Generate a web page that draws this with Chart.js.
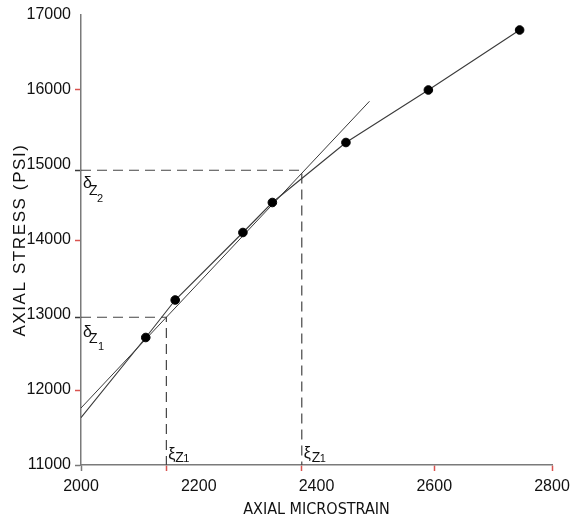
<!DOCTYPE html>
<html>
<head>
<meta charset="utf-8">
<script src="https://cdn.jsdelivr.net/npm/chart.js@4/dist/chart.umd.min.js"></script>
<style>
  html, body { margin: 0; padding: 0; background: #fff; }
  #wrap { width: 582px; height: 527px; }
</style>
</head>
<body>
<div id="wrap"><canvas id="c" width="582" height="527"></canvas></div>
<script>
// ---- data ----
const strainValues = [2110, 2160, 2275, 2325, 2450, 2590, 2745];
const stressValues = [12700, 13200, 14100, 14500, 15300, 16000, 16800];

// curve drawn through the data, starting at the left axis
const curveStartStrain = 2000;
const curveStartStress = 11630;

// straight chord line
const chordStrain = [2000, 2490];
const chordStress = [11760, 15850];

// construction (dashed) values
const xiZ1 = 2145, deltaZ1 = 12970;
const xiZ2 = 2375, deltaZ2 = 14930;

// axis ticks
const xTickLabels = [2000, 2200, 2400, 2600, 2800];
const yTickLabels = [11000, 12000, 13000, 14000, 15000, 16000, 17000];

const RED = '#d9534f';
const AXIS = '#7a7a7a';
const LINE = '#3a3a3a';
const TICKFONT = "'Liberation Sans', Arial, sans-serif";
const XTITLEFONT = "'DejaVu Sans Condensed', 'Liberation Sans', sans-serif";

const points = strainValues.map((x, i) => ({x, y: stressValues[i]}));
const curve = [{x: curveStartStrain, y: curveStartStress}].concat(points);
const chord = chordStrain.map((x, i) => ({x, y: chordStress[i]}));
const dash1 = [{x: 2000, y: deltaZ1}, {x: xiZ1, y: deltaZ1}, {x: xiZ1, y: 11000}];
const dash2 = [{x: 2000, y: deltaZ2}, {x: xiZ2, y: deltaZ2}, {x: xiZ2, y: 11000}];

const xTicksAll = [2000, xiZ1, 2200, xiZ2, 2400, 2600, 2800];
const yTicksAll = [11000, 12000, deltaZ1, 13000, 14000, deltaZ2, 15000, 16000, 17000];

function xTickColor(v) {
  if (v === 2000) return AXIS;
  if (v === 2200 || v === 2400) return 'rgba(0,0,0,0)';
  return RED;
}
function yTickColor(v) {
  if (v === 11000) return AXIS;
  if (v === deltaZ1 || v === deltaZ2) return LINE;
  if (v === 13000 || v === 15000 || v === 17000) return 'rgba(0,0,0,0)';
  return RED;
}

const labelPlugin = {
  id: 'greekLabels',
  afterDatasetsDraw(chart) {
    const {ctx, scales: {x, y}} = chart;
    ctx.save();
    ctx.fillStyle = '#111';
    ctx.textBaseline = 'alphabetic';
    ctx.textAlign = 'left';
    function lab(sym, sub, px, py, o) {
      ctx.font = "16px 'Liberation Sans', Arial, sans-serif";
      ctx.fillText(sym, px + o[0], py + o[1]);
      ctx.font = "14px 'Liberation Sans', Arial, sans-serif";
      ctx.fillText('Z', px + o[2], py + o[3]);
      ctx.font = "11px 'Liberation Sans', Arial, sans-serif";
      ctx.fillText(sub, px + o[4], py + o[5]);
    }
    const ax = x.getPixelForValue(2000);
    lab('δ', '2', ax, y.getPixelForValue(deltaZ2), [2, 18, 8, 25, 16, 32]);
    lab('δ', '1', ax, y.getPixelForValue(deltaZ1), [2, 20, 8, 26, 17, 33]);
    const by = y.getPixelForValue(11000);
    lab('ξ', '1', x.getPixelForValue(xiZ1), by, [2, -6, 9, -3, 17, -3]);
    lab('ξ', '1', x.getPixelForValue(xiZ2), by, [2, -7, 10, -3, 18, -3]);
    ctx.restore();
  }
};

function spacedTitle(s) {
  if (s._spacedTitle) return;
  s._spacedTitle = true;
  const orig = s.drawTitle.bind(s);
  s.drawTitle = function () {
    const ctx = s.ctx;
    ctx.save();
    ctx.letterSpacing = '1.6px';
    orig();
    ctx.restore();
  };
}

new Chart(document.getElementById('c'), {
  type: 'scatter',
  data: {
    datasets: [
      { data: points, showLine: false, pointRadius: 4.3, pointBackgroundColor: '#000', pointBorderColor: '#000', pointBorderWidth: 1 },
      { data: curve, showLine: true, pointRadius: 0, borderColor: LINE, borderWidth: 1.1, tension: 0, fill: false },
      { data: chord, showLine: true, pointRadius: 0, borderColor: LINE, borderWidth: 1, tension: 0, fill: false },
      { data: dash1, showLine: true, pointRadius: 0, borderColor: '#444', borderWidth: 1.2, borderDash: [10, 6], tension: 0, fill: false, clip: false },
      { data: dash2, showLine: true, pointRadius: 0, borderColor: '#444', borderWidth: 1.2, borderDash: [10, 6], tension: 0, fill: false, clip: false }
    ]
  },
  options: {
    responsive: false,
    animation: false,
    devicePixelRatio: 1,
    layout: { padding: { left: 0, right: 30, top: 15, bottom: 0 } },
    plugins: { legend: { display: false }, tooltip: { enabled: false } },
    scales: {
      x: {
        type: 'linear', min: 2000, max: 2800,
        afterBuildTicks(s) { s.ticks = xTicksAll.map(v => ({value: v})); },
        afterFit(s) { s.height = 62; },
        border: { color: AXIS, width: 1.5 },
        grid: { drawOnChartArea: false, drawTicks: true, tickLength: 6, tickWidth: 1.5, tickColor: c => xTickColor(c.tick.value) },
        ticks: {
          padding: 6, color: '#111', maxRotation: 0, autoSkip: false,
          font: { family: TICKFONT, size: 16 },
          callback: v => xTickLabels.includes(v) ? String(v) : ''
        },
        title: { display: true, text: 'AXIAL MICROSTRAIN', color: '#111',
          font: { family: XTITLEFONT, size: 16 }, padding: { top: 0, bottom: 8 } }
      },
      y: {
        type: 'linear', min: 11000, max: 17000,
        afterBuildTicks(s) { s.ticks = yTicksAll.map(v => ({value: v})); },
        afterFit(s) { s.width = 81; spacedTitle(s); },
        border: { color: AXIS, width: 1.5 },
        grid: { drawOnChartArea: false, drawTicks: true, tickLength: 6, tickWidth: 1.5, tickColor: c => yTickColor(c.tick.value) },
        ticks: {
          padding: 4, color: '#111', autoSkip: false,
          font: { family: TICKFONT, size: 16 },
          callback: v => yTickLabels.includes(v) ? String(v) : ''
        },
        title: { display: true, text: 'AXIAL STRESS (PSI)', color: '#111',
          font: { family: "'Liberation Sans', Arial, sans-serif", size: 17 }, padding: { top: 10, bottom: 0 } }
      }
    }
  },
  plugins: [labelPlugin]
});
</script>
</body>
</html>
